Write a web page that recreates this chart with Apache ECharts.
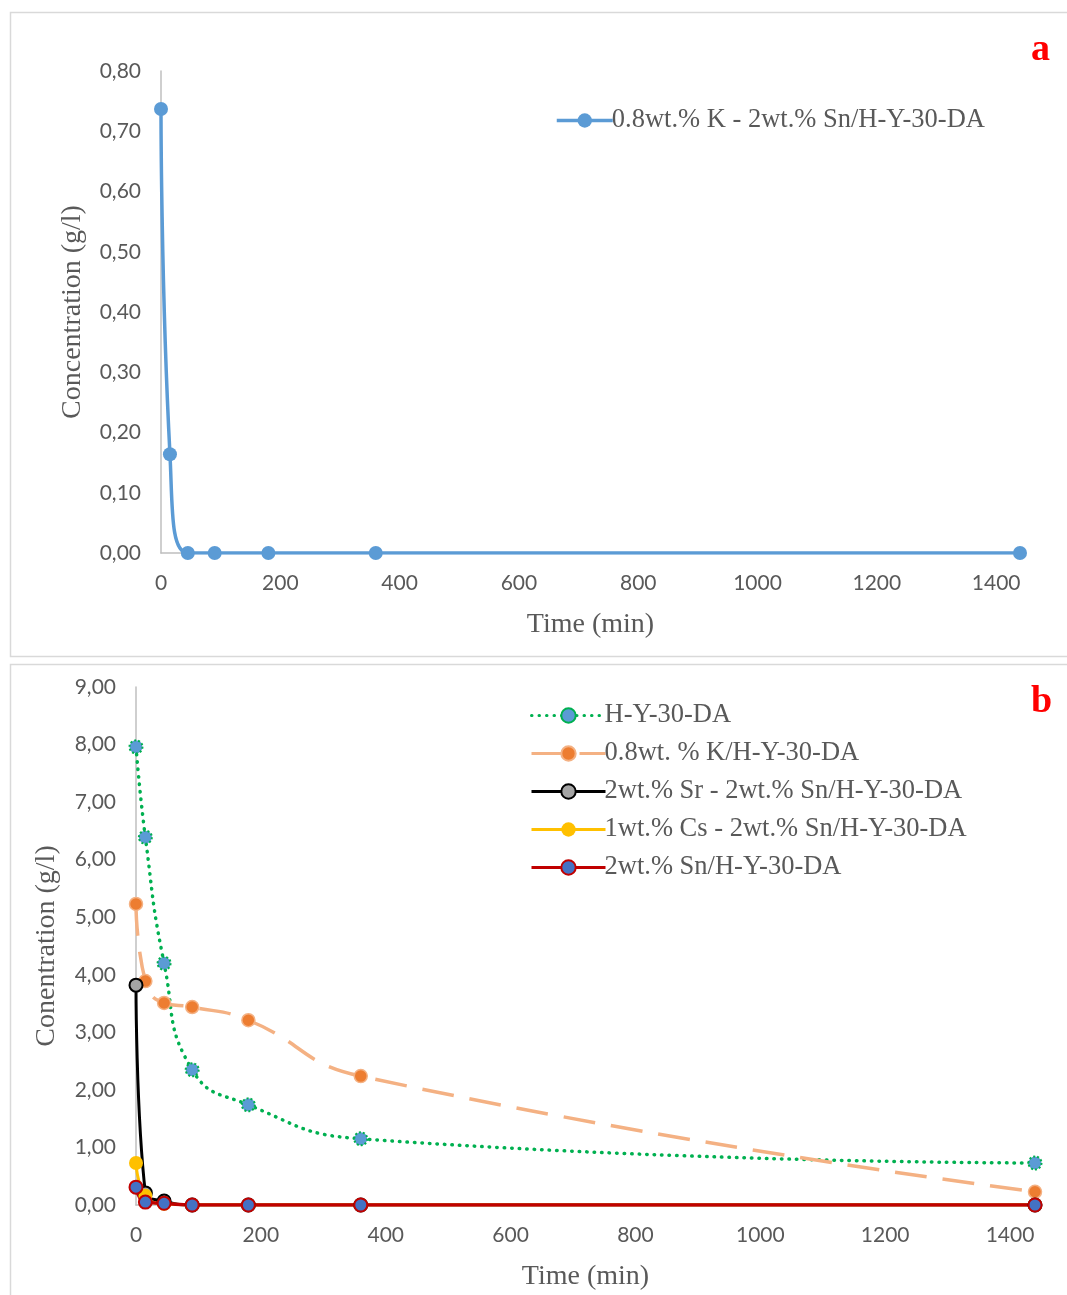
<!DOCTYPE html>
<html>
<head>
<meta charset="utf-8">
<script src="https://cdn.jsdelivr.net/npm/echarts@6/dist/echarts.min.js"></script>
<style>
  html, body { margin: 0; padding: 0; background: #ffffff; }
  #chart { width: 1067px; height: 1295px; }
</style>
</head>
<body>
<div id="chart"></div>
<script>
// 时间点 (min)
const timeA = [0, 15, 45, 90, 180, 360, 1440];
const timeB = [0, 15, 45, 90, 180, 360, 1440];

// 图 a
const kSnValues = [0.737, 0.164, 0, 0, 0, 0, 0];

// 图 b
const hyValues = [7.96, 6.39, 4.20, 2.35, 1.74, 1.15, 0.73];
const kHyValues = [5.23, 3.89, 3.51, 3.44, 3.21, 2.24, 0.23];
const srSnValues = [3.82, 0.21, 0.07, 0, 0, 0, 0];
const csSnValues = [0.73, 0.16, 0.02, 0, 0, 0, 0];
const snValues = [0.31, 0.05, 0.03, 0, 0, 0, 0];

const namesA = ['0.8wt.% K - 2wt.% Sn/H-Y-30-DA'];
const namesB = [
  'H-Y-30-DA',
  '0.8wt. % K/H-Y-30-DA',
  '2wt.% Sr - 2wt.% Sn/H-Y-30-DA',
  '1wt.% Cs - 2wt.% Sn/H-Y-30-DA',
  '2wt.% Sn/H-Y-30-DA'
];

const pair = (xs, ys) => xs.map((x, i) => [x, ys[i]]);

const labelColor = '#595959';
const axisColor = '#BFBFBF';
const serif = '"Liberation Serif", "Times New Roman", serif';
const sans = 'Lato, "Open Sans", sans-serif';

const chart = echarts.init(document.getElementById('chart'));

// 坐标轴公共样式
const xAxisBase = (gridIndex) => ({
  type: 'value',
  gridIndex: gridIndex,
  min: 0,
  max: 1440,
  interval: 200,
  name: 'Time (min)',
  nameLocation: 'middle',
  nameGap: 58,
  nameTextStyle: { fontFamily: serif, fontSize: 28, color: labelColor },
  axisLine: { show: true, lineStyle: { color: axisColor, width: 1.5 } },
  axisTick: { show: false },
  splitLine: { show: false },
  axisLabel: {
    color: labelColor,
    fontFamily: sans,
    fontSize: 21,
    margin: 20,
    formatter: (v) => (v % 200 === 0 ? String(v) : '')
  }
});

const yAxisBase = (gridIndex, max, interval, name, gap) => ({
  type: 'value',
  gridIndex: gridIndex,
  min: 0,
  max: max,
  interval: interval,
  name: name,
  nameLocation: 'middle',
  nameGap: gap,
  nameTextStyle: { fontFamily: serif, fontSize: 28, color: labelColor },
  axisLine: { show: true, lineStyle: { color: axisColor, width: 1.5 } },
  axisTick: { show: false },
  splitLine: { show: false },
  axisLabel: {
    color: labelColor,
    fontFamily: sans,
    fontSize: 21,
    margin: 20,
    formatter: (v) => v.toFixed(2).replace('.', ',')
  }
});

const option = {
  backgroundColor: '#ffffff',
  animation: false,
  graphic: [
    {
      type: 'rect',
      shape: { x: 10.5, y: 12.5, width: 1070, height: 644 },
      style: { fill: 'none', stroke: '#D9D9D9', lineWidth: 1.5 }
    },
    {
      type: 'rect',
      shape: { x: 10.5, y: 664.5, width: 1070, height: 650 },
      style: { fill: 'none', stroke: '#D9D9D9', lineWidth: 1.5 }
    },
    {
      type: 'text',
      left: 1031,
      top: 31,
      style: { text: 'a', fill: '#FF0000', font: 'bold 38px ' + serif }
    },
    {
      type: 'text',
      left: 1031,
      top: 683,
      style: { text: 'b', fill: '#FF0000', font: 'bold 38px ' + serif }
    }
  ],
  legend: [
    {
      data: namesA,
      left: 550,
      top: 102,
      itemWidth: 56,
      itemHeight: 18,
      itemGap: 5,
      lineStyle: { width: 3.5 },
      textStyle: { fontFamily: serif, fontSize: 26.5, lineHeight: 27, color: labelColor, padding: [0, 0, 0, -6] }
    },
    {
      data: namesB,
      orient: 'vertical',
      left: 525,
      top: 697,
      itemWidth: 74,
      itemHeight: 18,
      itemGap: 11,
      lineStyle: { width: 3 },
      textStyle: { fontFamily: serif, fontSize: 26.5, lineHeight: 27, color: labelColor, padding: [0, 0, 0, -6] }
    }
  ],
  grid: [
    { left: 161, top: 71, width: 859, height: 482, outerBoundsMode: 'none' },
    { left: 136, top: 687, width: 899, height: 518, outerBoundsMode: 'none' }
  ],
  xAxis: [xAxisBase(0), xAxisBase(1)],
  yAxis: [
    yAxisBase(0, 0.8, 0.1, 'Concentration (g/l)', 74),
    yAxisBase(1, 9, 1, 'Conentration (g/l)', 75)
  ],
  series: [
    {
      name: namesA[0],
      type: 'line',
      xAxisIndex: 0,
      yAxisIndex: 0,
      data: pair(timeA, kSnValues),
      smooth: 0.5,
      symbol: 'circle',
      symbolSize: 14,
      lineStyle: { color: '#5B9BD5', width: 3.5 },
      itemStyle: { color: '#5B9BD5' }
    },
    {
      name: namesB[0],
      type: 'line',
      xAxisIndex: 1,
      yAxisIndex: 1,
      data: pair(timeB, hyValues),
      smooth: 0.5,
      symbol: 'circle',
      symbolSize: 13,
      lineStyle: { color: '#00B050', width: 3.5, type: [0.5, 7], cap: 'round' },
      itemStyle: { color: '#5B9BD5', borderColor: '#00B050', borderWidth: 2, borderType: [2, 2] }
    },
    {
      name: namesB[1],
      type: 'line',
      xAxisIndex: 1,
      yAxisIndex: 1,
      data: pair(timeB, kHyValues),
      smooth: 0.5,
      symbol: 'circle',
      symbolSize: 13,
      lineStyle: { color: '#F4B183', width: 3.5, type: [32, 16] },
      itemStyle: { color: '#ED7D31', borderColor: '#F4B183', borderWidth: 1.5 }
    },
    {
      name: namesB[2],
      type: 'line',
      xAxisIndex: 1,
      yAxisIndex: 1,
      data: pair(timeB, srSnValues),
      smooth: 0.5,
      symbol: 'circle',
      symbolSize: 13,
      lineStyle: { color: '#000000', width: 3 },
      itemStyle: { color: '#A5A5A5', borderColor: '#000000', borderWidth: 2 }
    },
    {
      name: namesB[3],
      type: 'line',
      xAxisIndex: 1,
      yAxisIndex: 1,
      data: pair(timeB, csSnValues),
      smooth: 0.5,
      symbol: 'circle',
      symbolSize: 14,
      lineStyle: { color: '#FFC000', width: 3 },
      itemStyle: { color: '#FFC000' }
    },
    {
      name: namesB[4],
      type: 'line',
      xAxisIndex: 1,
      yAxisIndex: 1,
      data: pair(timeB, snValues),
      smooth: 0.5,
      symbol: 'circle',
      symbolSize: 13,
      lineStyle: { color: '#C00000', width: 3.5 },
      itemStyle: { color: '#4472C4', borderColor: '#C00000', borderWidth: 2 }
    }
  ]
};

chart.setOption(option);
</script>
</body>
</html>
